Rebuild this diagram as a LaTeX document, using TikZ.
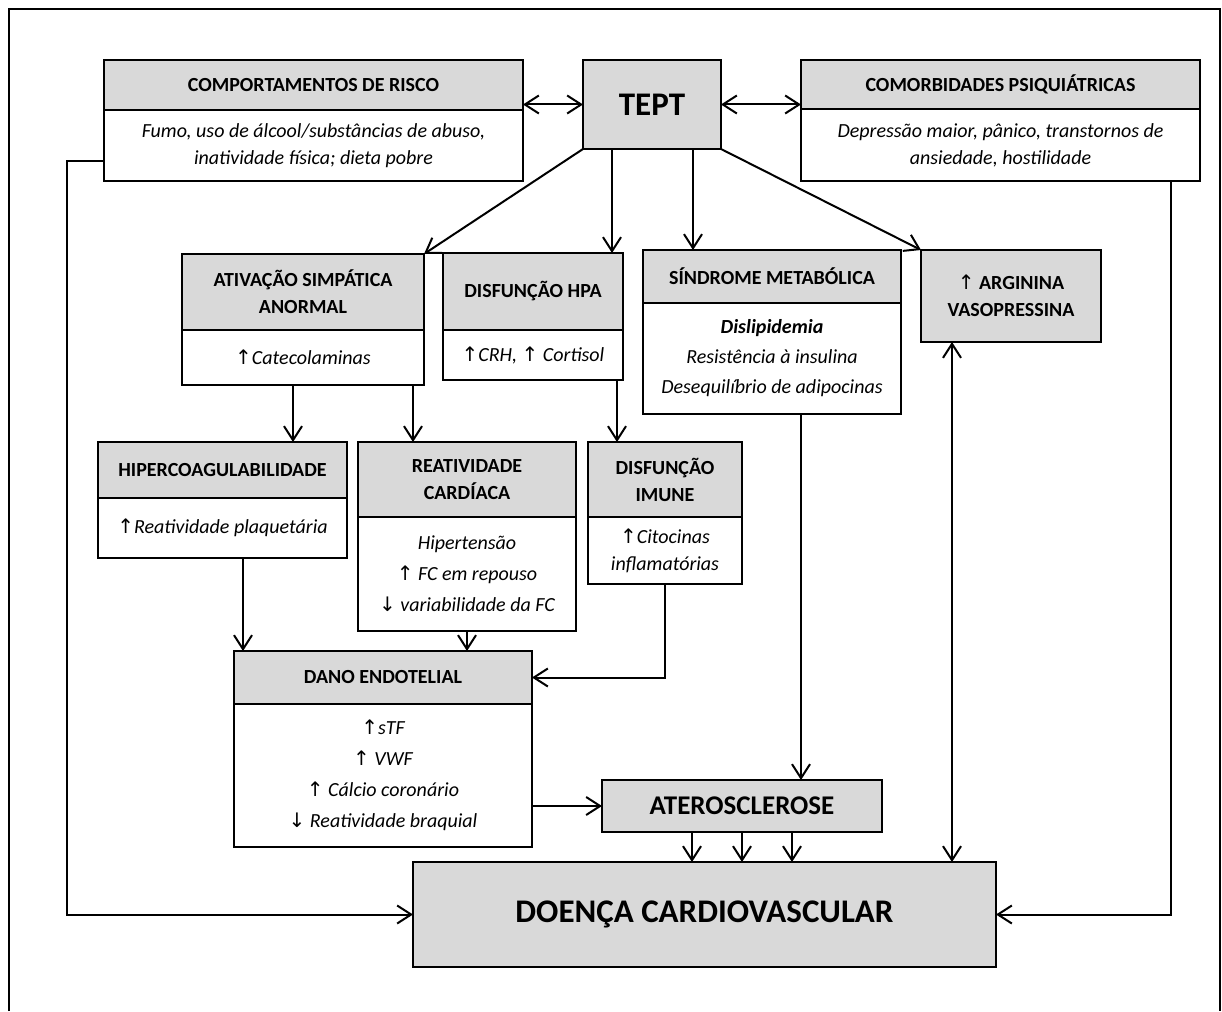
\documentclass[tikz,border=0pt]{standalone}
\usepackage{fontspec}
\setmainfont{Carlito}
\newfontfamily\arrowfont{DejaVu Sans}
\usetikzlibrary{
  arrows.meta,
  positioning,
}
\definecolor{boxgray}{HTML}{D9D9D9}
\tikzset{
  >={Straight Barb[length=14pt,width=18pt]},
}
\newcommand\upar{{\arrowfont\mdseries\upshape ↑}}
\newcommand\dnar{{\arrowfont\mdseries\upshape ↓}}

\begin{document}
\begin{tikzpicture}[
      x=1pt, y=-1pt,
      line width=2pt,
      every node/.style={
        align=center,
        inner sep=0pt,
        outer sep=0pt,
      },
      boxhead/.style={draw,
        line width=2.2pt,
        fill=boxgray,
        anchor=north west,
        font=\fontsize{20}{27}\selectfont\bfseries,
      },
      boxbody/.style={draw,
        line width=2.2pt,
        fill=white,
        font=\fontsize{20}{27}\selectfont\itshape,
      },
      ]
      \useasboundingbox (0,0) rectangle (1222,1011);
      \draw[line width=2.5pt] (9,1011) -- (9,9) -- (1220,9) -- (1220,1011);

      % top row
      \node[boxhead, minimum width=419pt, minimum height=50pt] (risk-head) at (104,60) {COMPORTAMENTOS DE RISCO};
      \node[boxbody, minimum width=419pt, minimum height=71pt, below=0pt of risk-head] (risk-body)
        {Fumo, uso de álcool/substâncias de abuso,\\ inatividade física; dieta pobre};
      \node[boxhead, minimum width=138pt, minimum height=89pt,
        font=\fontsize{33}{40}\selectfont\bfseries] (tept) at (583,60) {TEPT};
      \node[boxhead, minimum width=399pt, minimum height=49pt] (comorb-head) at (801,60) {COMORBIDADES PSIQUIÁTRICAS};
      \node[boxbody, minimum width=399pt, minimum height=72pt, below=0pt of comorb-head] (comorb-body)
        {Depressão maior, pânico, transtornos de\\ ansiedade, hostilidade};

      % mechanisms
      \node[boxhead, minimum width=242pt, minimum height=76pt] (symp-head) at (182,254) {ATIVAÇÃO SIMPÁTICA\\ ANORMAL};
      \node[boxbody, minimum width=242pt, minimum height=55pt, below=0pt of symp-head] (symp-body) {\upar Catecolaminas};
      \node[boxhead, minimum width=180pt, minimum height=77pt] (hpa-head) at (443,253) {DISFUNÇÃO HPA};
      \node[boxbody, minimum width=180pt, minimum height=50pt, below=0pt of hpa-head] (hpa-body) {\upar CRH, \upar{} Cortisol};
      \node[boxhead, minimum width=258pt, minimum height=53pt] (metab-head) at (643,250) {SÍNDROME METABÓLICA};
      \node[boxbody, minimum width=258pt, minimum height=111pt, below=0pt of metab-head] (metab-body)
        {\textbf{Dislipidemia}\\[3pt] Resistência à insulina\\[3pt] Desequilíbrio de adipocinas};
      \node[boxhead, minimum width=180pt, minimum height=92pt] (avp) at (921,250) {\upar{} ARGININA\\ VASOPRESSINA};

      \node[boxhead, minimum width=249pt, minimum height=56pt] (coag-head) at (98,442) {HIPERCOAGULABILIDADE};
      \node[boxbody, minimum width=249pt, minimum height=60pt, below=0pt of coag-head] (coag-body) {\upar Reatividade plaquetária};
      \node[boxhead, minimum width=218pt, minimum height=75pt] (card-head) at (358,442) {REATIVIDADE\\ CARDÍACA};
      \node[boxbody, minimum width=218pt, minimum height=114pt, below=0pt of card-head] (card-body)
        {Hipertensão\\[4pt] \upar{} FC em repouso\\[4pt] \dnar{} variabilidade da FC};
      \node[boxhead, minimum width=154pt, minimum height=75pt] (imm-head) at (588,442) {DISFUNÇÃO\\ IMUNE};
      \node[boxbody, minimum width=154pt, minimum height=67pt, below=0pt of imm-head] (imm-body) {\upar Citocinas\\ inflamatórias};

      \node[boxhead, minimum width=298pt, minimum height=53pt] (endo-head) at (234,651) {DANO ENDOTELIAL};
      \node[boxbody, minimum width=298pt, minimum height=143pt, below=0pt of endo-head] (endo-body)
        {\upar sTF\\[4pt] \upar{} VWF\\[4pt] \upar{} Cálcio coronário\\[4pt] \dnar{} Reatividade braquial};
      \node[boxhead, minimum width=280pt, minimum height=52pt,
        font=\fontsize{27}{32}\selectfont\bfseries] (ather) at (602,780) {ATEROSCLEROSE};
      \node[boxhead, minimum width=583pt, minimum height=105pt,
        font=\fontsize{33}{40}\selectfont\bfseries] (cvd) at (413,862) {DOENÇA CARDIOVASCULAR};

      % connectors
      \coordinate (tept-b1) at ([xshift=29pt]tept.south west);
      \coordinate (tept-b2) at ([xshift=110pt]tept.south west);
      \coordinate (symp-b1) at ([xshift=111pt]symp-body.south west);
      \coordinate (symp-b2) at ([xshift=231pt]symp-body.south west);
      \coordinate (hpa-b) at ([xshift=-6pt]hpa-body.south east);
      \coordinate (coag-b) at ([xshift=145pt]coag-body.south west);
      \coordinate (metab-b) at ([xshift=158pt]metab-body.south west);
      \coordinate (avp-b) at ([xshift=31pt]avp.south west);
      \coordinate (risk-out) at ([yshift=-16pt]risk-body.west);
      \coordinate (comorb-out) at ([xshift=-29pt]comorb-body.south east);

      \draw[<->] (tept.west) -- (tept.west -| risk-head.east);
      \draw[<->] (tept.east) -- (tept.east -| comorb-head.west);
      \draw[->] (tept.south west) -- (symp-head.north east);
      \draw[->] (tept-b1) -- (tept-b1 |- hpa-head.north);
      \draw[->] (tept-b2) -- (tept-b2 |- metab-head.north);
      \draw[->] (tept.south east) -- (avp.north west);

      \draw[->] (symp-b1) -- (symp-b1 |- coag-head.north);
      \draw[->] (symp-b2) -- (symp-b2 |- card-head.north);
      \draw[->] (hpa-b) -- (hpa-b |- imm-head.north);
      \draw[->] (coag-b) -- (coag-b |- endo-head.north);
      \draw[->] (card-body.south) -- (card-body.south |- endo-head.north);
      \draw[->] (imm-body.south) |- (endo-head.east);
      \draw[->] (metab-b) -- (metab-b |- ather.north);
      \draw[->] (ather.west -| endo-body.east) -- (ather.west);
      \foreach \dx in {-50,0,50} {
        \coordinate (ather-b) at ([xshift=\dx pt]ather.south);
        \draw[->] (ather-b) -- (ather-b |- cvd.north);
      }
      \draw[<->] (avp-b) -- (avp-b |- cvd.north);
      \draw[->] (risk-out) -- ++(-37,0) |- (cvd.west);
      \draw[->] (comorb-out) |- (cvd.east);
    \end{tikzpicture}
\end{document}
